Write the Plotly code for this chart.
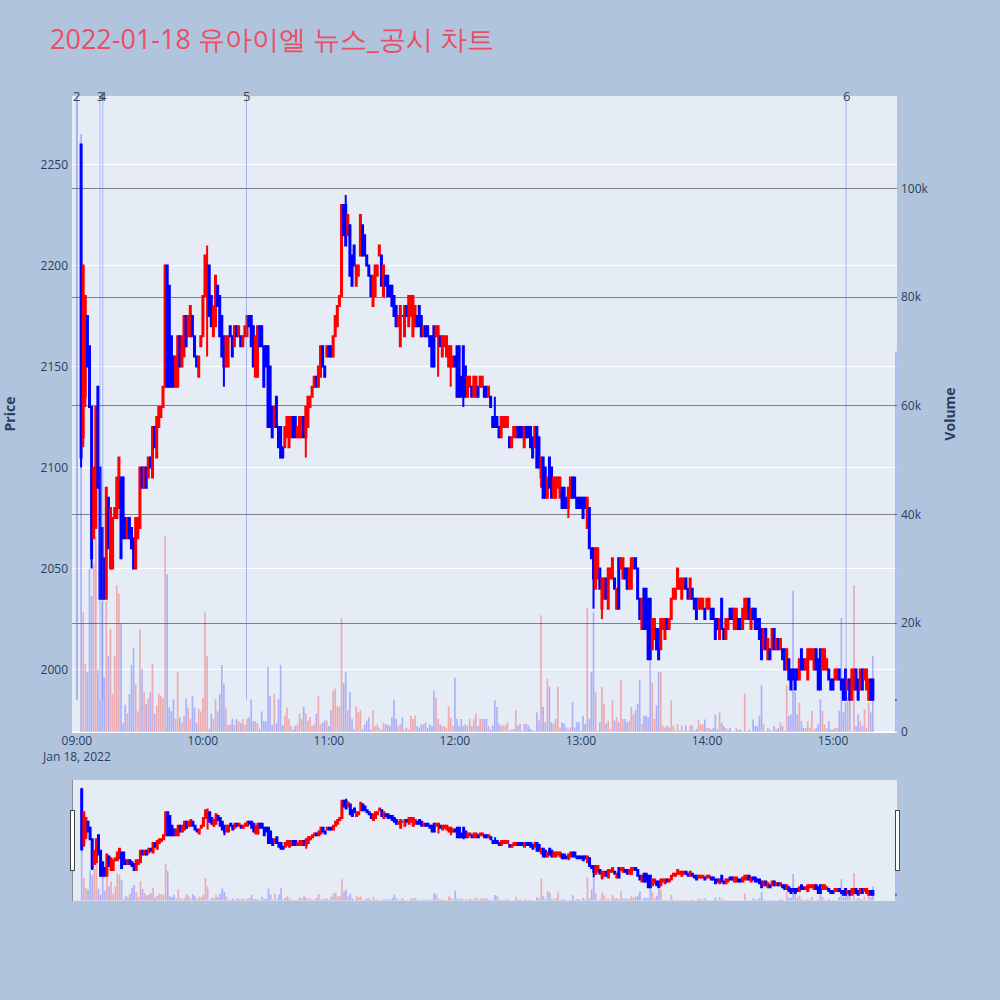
import pandas as pd
import plotly.graph_objects as go
from plotly.subplots import make_subplots

# ======================== 1-minute candles, 09:02 ~ 15:19 + closing auction 15:30 ========================
# 09:02 ~ 10:40
open_a = [2260, 2115, 2135, 2175, 2160, 2130, 2065, 2070, 2140, 2100,
          2070, 2055, 2035, 2085, 2050, 2050, 2075, 2075, 2080, 2095,
          2095, 2075, 2065, 2075, 2070, 2065, 2050, 2065, 2070, 2100,
          2090, 2100, 2095, 2105, 2095, 2120, 2105, 2120, 2125, 2130,
          2140, 2200, 2190, 2165, 2155, 2140, 2140, 2165, 2150, 2155,
          2175, 2165, 2165, 2175, 2165, 2155, 2145, 2160, 2165, 2185,
          2185, 2200, 2185, 2165, 2170, 2190, 2185, 2175, 2165, 2150,
          2150, 2170, 2165, 2160, 2170, 2165, 2165, 2160, 2165, 2165,
          2175, 2175, 2170, 2145, 2145, 2170, 2170, 2160, 2160, 2160,
          2150, 2130, 2120, 2135, 2120, 2120, 2110, 2110, 2115]
high_a = [2260, 2200, 2185, 2175, 2160, 2130, 2100, 2130, 2140, 2100,
          2070, 2055, 2090, 2085, 2080, 2075, 2080, 2095, 2105, 2095,
          2095, 2075, 2075, 2075, 2070, 2065, 2075, 2075, 2100, 2100,
          2100, 2100, 2105, 2105, 2120, 2120, 2125, 2130, 2130, 2140,
          2200, 2200, 2190, 2165, 2155, 2155, 2165, 2165, 2165, 2175,
          2175, 2175, 2180, 2175, 2165, 2155, 2155, 2165, 2185, 2205,
          2210, 2200, 2185, 2180, 2195, 2190, 2185, 2175, 2165, 2165,
          2165, 2170, 2165, 2170, 2170, 2170, 2165, 2165, 2170, 2175,
          2175, 2175, 2170, 2165, 2170, 2170, 2170, 2160, 2160, 2160,
          2150, 2130, 2130, 2135, 2120, 2120, 2110, 2120, 2125]
low_a = [2100, 2110, 2130, 2150, 2130, 2050, 2065, 2070, 2090, 2035,
         2035, 2035, 2035, 2060, 2050, 2050, 2075, 2075, 2080, 2055,
         2065, 2065, 2065, 2065, 2060, 2050, 2050, 2065, 2070, 2090,
         2090, 2090, 2095, 2100, 2095, 2110, 2105, 2120, 2125, 2130,
         2140, 2140, 2140, 2140, 2140, 2140, 2140, 2150, 2150, 2155,
         2160, 2165, 2165, 2165, 2155, 2150, 2145, 2160, 2165, 2185,
         2155, 2175, 2170, 2165, 2170, 2180, 2165, 2155, 2140, 2150,
         2150, 2165, 2155, 2160, 2165, 2165, 2160, 2160, 2165, 2165,
         2170, 2160, 2150, 2145, 2145, 2160, 2160, 2140, 2150, 2120,
         2120, 2115, 2120, 2120, 2110, 2105, 2105, 2110, 2115]
close_a = [2105, 2200, 2185, 2150, 2130, 2055, 2100, 2130, 2090, 2035,
           2035, 2035, 2090, 2060, 2080, 2075, 2080, 2095, 2105, 2055,
           2065, 2065, 2075, 2065, 2060, 2050, 2075, 2075, 2100, 2090,
           2100, 2090, 2105, 2100, 2120, 2110, 2125, 2130, 2130, 2140,
           2200, 2140, 2140, 2140, 2140, 2155, 2165, 2150, 2165, 2175,
           2160, 2175, 2180, 2165, 2155, 2150, 2155, 2165, 2185, 2205,
           2200, 2175, 2170, 2180, 2195, 2180, 2165, 2155, 2150, 2165,
           2165, 2165, 2155, 2170, 2165, 2170, 2160, 2165, 2170, 2175,
           2170, 2160, 2150, 2165, 2170, 2160, 2160, 2140, 2150, 2120,
           2120, 2115, 2130, 2120, 2110, 2105, 2105, 2120, 2125]
vol_a = [110000, 22000, 12500, 11000, 30000, 25000, 31000, 36000, 11500, 6000,
         24000, 10000, 24000, 14000, 19000, 7000, 14000, 27000, 25500, 20000,
         1600, 5000, 3400, 7000, 12300, 15500, 8800, 3800, 19000, 11600,
         7400, 5200, 6200, 7400, 12600, 3400, 4800, 7000, 6600, 6200,
         36000, 29000, 4500, 3800, 6000, 2400, 11000, 2700, 1600, 3000,
         6200, 4500, 2400, 6600, 4500, 1600, 4200, 3800, 6200, 22000,
         14000, 600, 3400, 2400, 6000, 3800, 7000, 12300, 8800, 4500,
         1300, 1300, 2400, 1300, 2400, 2000, 1600, 2400, 1300, 2400,
         2700, 6000, 2000, 2000, 1600, 600, 3800, 2000, 2000, 12000,
         6600, 1300, 7000, 1600, 6000, 12300, 1300, 3000, 4500]

# 10:41 ~ 12:17
open_b = [2110, 2115, 2125, 2125, 2115, 2115, 2115, 2125, 2115, 2120,
          2130, 2135, 2140, 2145, 2140, 2145, 2160, 2150, 2155, 2160,
          2160, 2155, 2165, 2170, 2180, 2185, 2230, 2230, 2215, 2220,
          2205, 2210, 2190, 2195, 2205, 2220, 2215, 2205, 2200, 2195,
          2180, 2185, 2195, 2205, 2205, 2185, 2195, 2195, 2190, 2190,
          2185, 2180, 2170, 2160, 2175, 2165, 2180, 2170, 2175, 2165,
          2170, 2175, 2180, 2175, 2165, 2170, 2170, 2165, 2165, 2170,
          2165, 2165, 2165, 2155, 2160, 2155, 2150, 2150, 2150, 2155,
          2160, 2160, 2145, 2160, 2150, 2135, 2140, 2140, 2135, 2135,
          2140, 2140, 2140, 2140, 2140, 2135, 2135]
high_b = [2125, 2125, 2125, 2125, 2120, 2125, 2125, 2125, 2130, 2135,
          2135, 2140, 2145, 2145, 2150, 2160, 2160, 2150, 2160, 2160,
          2160, 2165, 2175, 2180, 2185, 2230, 2230, 2235, 2225, 2220,
          2205, 2210, 2200, 2200, 2225, 2220, 2215, 2205, 2200, 2195,
          2195, 2200, 2200, 2210, 2205, 2200, 2195, 2195, 2190, 2190,
          2185, 2180, 2175, 2180, 2175, 2180, 2180, 2185, 2185, 2185,
          2180, 2175, 2180, 2175, 2170, 2170, 2170, 2165, 2165, 2170,
          2170, 2170, 2165, 2165, 2165, 2165, 2160, 2160, 2155, 2155,
          2160, 2160, 2145, 2160, 2150, 2145, 2145, 2140, 2145, 2145,
          2140, 2145, 2145, 2140, 2140, 2140, 2135]
low_b = [2110, 2115, 2115, 2115, 2115, 2115, 2115, 2115, 2105, 2120,
         2130, 2135, 2140, 2140, 2140, 2145, 2150, 2145, 2155, 2155,
         2155, 2155, 2165, 2170, 2180, 2185, 2215, 2210, 2215, 2195,
         2190, 2200, 2190, 2195, 2205, 2205, 2205, 2200, 2195, 2185,
         2180, 2185, 2195, 2205, 2190, 2185, 2190, 2185, 2185, 2180,
         2175, 2170, 2170, 2160, 2175, 2165, 2175, 2170, 2175, 2165,
         2170, 2170, 2170, 2165, 2165, 2165, 2165, 2160, 2150, 2150,
         2165, 2145, 2160, 2155, 2160, 2155, 2150, 2140, 2150, 2150,
         2135, 2135, 2135, 2130, 2135, 2135, 2140, 2135, 2135, 2135,
         2135, 2140, 2140, 2135, 2135, 2135, 2130]
close_b = [2125, 2125, 2115, 2115, 2120, 2125, 2125, 2115, 2130, 2135,
           2135, 2140, 2145, 2140, 2150, 2160, 2150, 2145, 2160, 2155,
           2155, 2165, 2175, 2180, 2185, 2230, 2215, 2210, 2225, 2195,
           2190, 2200, 2200, 2200, 2225, 2205, 2205, 2200, 2195, 2185,
           2195, 2200, 2200, 2210, 2190, 2200, 2190, 2185, 2185, 2180,
           2175, 2170, 2175, 2180, 2175, 2180, 2175, 2185, 2185, 2185,
           2180, 2170, 2170, 2165, 2170, 2165, 2165, 2160, 2150, 2150,
           2170, 2170, 2160, 2165, 2165, 2165, 2160, 2160, 2155, 2150,
           2135, 2135, 2135, 2135, 2135, 2145, 2145, 2135, 2145, 2145,
           2135, 2145, 2145, 2135, 2135, 2140, 2130]
vol_b = [2400, 1100, 450, 1100, 1400, 3400, 2400, 4700, 3400, 2100,
         2700, 1100, 1400, 3400, 6600, 1400, 1700, 2100, 2100, 1100,
         4000, 7600, 8000, 4700, 4700, 21000, 9000, 11000, 4000, 7300,
         2400, 450, 4700, 3700, 4000, 450, 1400, 2100, 2700, 450,
         4000, 1100, 1400, 800, 450, 1700, 1400, 1400, 1100, 2700,
         6000, 2400, 1100, 1400, 2700, 450, 800, 450, 3000, 2400,
         3000, 1100, 800, 1400, 1400, 1700, 800, 1400, 1100, 7600,
         6300, 2400, 1400, 1100, 1100, 800, 4700, 2700, 1100, 10000,
         2400, 1100, 2400, 1100, 1400, 1100, 2400, 1100, 2400, 3400,
         1100, 2400, 2400, 2400, 2400, 1100, 450]

# 12:18 ~ 13:55
open_c = [2125, 2125, 2125, 2120, 2115, 2120, 2120, 2120, 2115, 2110,
          2115, 2115, 2120, 2120, 2120, 2110, 2120, 2120, 2120, 2115,
          2110, 2120, 2115, 2095, 2105, 2100, 2085, 2105, 2100, 2085,
          2085, 2090, 2085, 2090, 2090, 2085, 2080, 2085, 2095, 2095,
          2085, 2085, 2085, 2085, 2085, 2070, 2080, 2060, 2060, 2040,
          2045, 2050, 2030, 2035, 2045, 2030, 2045, 2045, 2045, 2030,
          2055, 2050, 2045, 2050, 2050, 2040, 2040, 2050, 2055, 2050,
          2035, 2020, 2040, 2040, 2035, 2035, 2010, 2015, 2020, 2020,
          2010, 2020, 2015, 2025, 2020, 2025, 2035, 2035, 2040, 2040,
          2035, 2040, 2045, 2040, 2035, 2040, 2035, 2035]
high_c = [2125, 2135, 2125, 2120, 2125, 2125, 2125, 2125, 2115, 2115,
          2120, 2120, 2120, 2120, 2120, 2120, 2120, 2120, 2120, 2115,
          2120, 2120, 2115, 2105, 2105, 2100, 2095, 2105, 2100, 2095,
          2095, 2095, 2095, 2090, 2090, 2085, 2090, 2095, 2095, 2095,
          2085, 2085, 2085, 2085, 2085, 2085, 2080, 2060, 2060, 2060,
          2060, 2050, 2045, 2045, 2045, 2050, 2050, 2055, 2045, 2040,
          2055, 2055, 2055, 2050, 2050, 2050, 2055, 2055, 2055, 2050,
          2035, 2035, 2040, 2040, 2035, 2035, 2025, 2025, 2020, 2020,
          2025, 2025, 2025, 2025, 2025, 2035, 2040, 2040, 2050, 2045,
          2045, 2045, 2045, 2040, 2045, 2040, 2035, 2035]
low_c = [2120, 2120, 2120, 2115, 2115, 2120, 2120, 2120, 2110, 2110,
         2115, 2115, 2115, 2115, 2115, 2110, 2115, 2115, 2110, 2105,
         2110, 2100, 2100, 2090, 2085, 2085, 2085, 2090, 2085, 2085,
         2085, 2090, 2085, 2080, 2080, 2080, 2075, 2085, 2085, 2085,
         2080, 2080, 2080, 2075, 2080, 2070, 2060, 2055, 2030, 2040,
         2045, 2040, 2025, 2035, 2035, 2030, 2045, 2045, 2040, 2030,
         2030, 2050, 2045, 2045, 2040, 2040, 2040, 2050, 2050, 2035,
         2025, 2020, 2020, 2020, 2005, 2005, 2010, 2015, 2010, 2005,
         2010, 2020, 2015, 2020, 2020, 2025, 2035, 2035, 2040, 2040,
         2035, 2040, 2040, 2035, 2035, 2035, 2030, 2025]
close_c = [2120, 2120, 2120, 2115, 2125, 2125, 2125, 2125, 2110, 2115,
           2120, 2120, 2115, 2115, 2115, 2120, 2115, 2115, 2110, 2105,
           2120, 2100, 2100, 2105, 2085, 2085, 2095, 2090, 2085, 2095,
           2095, 2095, 2095, 2080, 2080, 2080, 2090, 2095, 2085, 2085,
           2080, 2080, 2080, 2075, 2080, 2085, 2060, 2055, 2045, 2060,
           2060, 2040, 2045, 2045, 2035, 2050, 2050, 2055, 2040, 2040,
           2030, 2055, 2055, 2045, 2040, 2050, 2055, 2055, 2050, 2035,
           2025, 2035, 2020, 2020, 2005, 2005, 2025, 2025, 2010, 2005,
           2025, 2025, 2025, 2020, 2025, 2035, 2040, 2040, 2050, 2045,
           2045, 2045, 2040, 2035, 2045, 2035, 2030, 2025]
vol_c = [1200, 5800, 4600, 1500, 1200, 1200, 1200, 1800, 250, 550,
         550, 4000, 1200, 1500, 250, 1500, 1500, 1200, 550, 250,
         250, 3600, 2100, 21500, 4600, 1800, 9800, 8300, 1800, 1500,
         2400, 8300, 850, 1800, 1500, 850, 550, 850, 5500, 850,
         1800, 1800, 250, 3000, 1500, 22800, 2400, 11000, 22000, 7300,
         250, 1800, 8300, 5200, 1500, 2100, 550, 5800, 2100, 2700,
         1800, 9500, 2400, 2400, 1800, 2100, 4600, 3300, 4000, 5200,
         9500, 1500, 3000, 3000, 2700, 13000, 9000, 2400, 4900, 11000,
         11000, 1200, 850, 1200, 850, 5800, 1200, 250, 1500, 250,
         1200, 250, 1200, 250, 1200, 1200, 250, 550]

# 13:56 ~ 15:19
open_d = [2030, 2030, 2030, 2030, 2030, 2030, 2030, 2030, 2025, 2025,
          2015, 2035, 2020, 2015, 2020, 2030, 2030, 2020, 2020, 2025,
          2025, 2020, 2025, 2025, 2035, 2020, 2030, 2030, 2025, 2025,
          2020, 2010, 2020, 2005, 2010, 2010, 2020, 2010, 2015, 2010,
          2010, 2010, 2000, 2005, 2000, 2000, 2000, 2000, 1995, 2010,
          2005, 2000, 1995, 2005, 2005, 2000, 2010, 2005, 2010, 2000,
          2000, 2000, 2000, 1995, 1995, 1995, 1995, 2000, 1995, 1995,
          2000, 1990, 1995, 1985, 1990, 2000, 1995, 1990, 2000, 1995,
          1990, 1985, 1995, 1995]
high_d = [2035, 2035, 2035, 2030, 2035, 2035, 2030, 2030, 2025, 2025,
          2025, 2035, 2020, 2025, 2025, 2030, 2030, 2030, 2030, 2025,
          2025, 2030, 2035, 2035, 2035, 2030, 2030, 2030, 2025, 2025,
          2020, 2020, 2020, 2015, 2010, 2020, 2020, 2015, 2015, 2015,
          2010, 2010, 2010, 2005, 2000, 2000, 2000, 2000, 2005, 2010,
          2005, 2005, 2010, 2010, 2010, 2010, 2010, 2005, 2010, 2010,
          2010, 2005, 2000, 1995, 1995, 2000, 2000, 2000, 1995, 1995,
          2000, 1995, 1995, 2000, 2000, 2000, 1995, 2000, 2000, 2000,
          2000, 1995, 1995, 1995]
low_d = [2030, 2030, 2030, 2025, 2030, 2030, 2025, 2025, 2015, 2020,
         2015, 2020, 2015, 2015, 2020, 2025, 2025, 2020, 2020, 2020,
         2020, 2020, 2025, 2025, 2025, 2020, 2025, 2020, 2020, 2015,
         2005, 2010, 2010, 2005, 2005, 2010, 2010, 2010, 2010, 2010,
         2005, 2000, 2000, 1995, 1990, 1995, 1990, 1995, 1995, 2000,
         2000, 2000, 1995, 2005, 2005, 2000, 2000, 1990, 1990, 2000,
         2000, 2000, 1995, 1990, 1990, 1995, 1995, 1995, 1990, 1985,
         1985, 1990, 1985, 1985, 1990, 1990, 1985, 1990, 1990, 1995,
         1990, 1985, 1985, 1985]
close_d = [2035, 2035, 2035, 2025, 2035, 2035, 2025, 2025, 2015, 2020,
           2025, 2020, 2015, 2025, 2025, 2025, 2025, 2030, 2030, 2020,
           2020, 2030, 2035, 2035, 2025, 2030, 2025, 2020, 2020, 2015,
           2005, 2020, 2010, 2015, 2005, 2020, 2010, 2015, 2010, 2015,
           2005, 2000, 2010, 1995, 1990, 1995, 1990, 1995, 2005, 2000,
           2000, 2005, 2010, 2010, 2010, 2010, 2000, 1990, 1990, 2010,
           2010, 2005, 1995, 1990, 1990, 2000, 2000, 1995, 1990, 1985,
           1985, 1995, 1985, 2000, 2000, 1990, 1985, 2000, 1990, 2000,
           2000, 1995, 1985, 1985]
vol_d = [2300, 1400, 1400, 2300, 750, 750, 450, 750, 3200, 450,
         3600, 1700, 1100, 750, 450, 750, 150, 150, 750, 450,
         450, 150, 7000, 150, 450, 150, 2300, 1100, 1100, 3000,
         8600, 1400, 150, 750, 450, 150, 1100, 450, 750, 1700,
         1100, 150, 8600, 3000, 3200, 26000, 7300, 3200, 5400, 2000,
         750, 750, 2000, 750, 3900, 450, 750, 1400, 6000, 3900,
         1400, 750, 2000, 450, 450, 750, 750, 3900, 21000, 3600,
         5400, 6400, 9500, 150, 27000, 1100, 3200, 2000, 1100, 4200,
         750, 5400, 3600, 14000]

# closing single-price auction
close_auction_time = "2022-01-18 15:30"
close_auction_price = 1985
close_auction_volume = 70000

# news / disclosure markers
news_times = ["2022-01-18 09:00:00", "2022-01-18 09:11:00", "2022-01-18 09:12:20",
              "2022-01-18 10:20:45", "2022-01-18 15:06:15"]
news_labels = ["2", "3", "4", "5", "6"]

# ======================== assemble ========================
opens = open_a + open_b + open_c + open_d + [close_auction_price]
highs = high_a + high_b + high_c + high_d + [close_auction_price]
lows = low_a + low_b + low_c + low_d + [close_auction_price]
closes = close_a + close_b + close_c + close_d + [close_auction_price]
volumes = vol_a + vol_b + vol_c + vol_d + [close_auction_volume]

n_minutes = len(open_a) + len(open_b) + len(open_c) + len(open_d)
times = pd.date_range("2022-01-18 09:02", periods=n_minutes, freq="min")
times = times.append(pd.DatetimeIndex([close_auction_time]))

lens = [len(opens), len(highs), len(lows), len(closes), len(volumes), len(times)]
assert len(set(lens)) == 1, f"length mismatch {lens}"

vol_colors = ["rgba(255,0,0,0.28)" if c > o else "rgba(0,0,255,0.25)" for o, c in zip(opens, closes)]

PRICE_RANGE = [1969, 2284]
VOL_RANGE = [0, 117000]
X_RANGE = ["2022-01-18 08:57:40", "2022-01-18 15:30:30"]

fig = make_subplots(specs=[[{"secondary_y": True}]])

fig.add_trace(go.Candlestick(
    x=times, open=opens, high=highs, low=lows, close=closes,
    increasing=dict(line=dict(color="red", width=2), fillcolor="red"),
    decreasing=dict(line=dict(color="blue", width=2), fillcolor="blue"),
    name="Price",
    showlegend=False
), secondary_y=False)

fig.add_trace(go.Bar(
    x=times, y=volumes,
    marker=dict(color=vol_colors, line=dict(width=0)),
    name="Volume",
    showlegend=False
), secondary_y=True)

# news lines
low_price = min(lows)
for t, label in zip(news_times, news_labels):
    fig.add_shape(
        type="line", xref="x", yref="y",
        x0=t, x1=t, y0=low_price, y1=PRICE_RANGE[1],
        line=dict(color="rgba(80,110,235,0.45)", width=2 if label == "2" else 1),
        layer="above"
    )
    fig.add_annotation(
        x=t, y=1, xref="x", yref="paper",
        text=label, showarrow=False, yanchor="middle",
        font=dict(size=13, color="#444")
    )

fig.update_layout(
    width=1000,
    height=1000,
    paper_bgcolor="lightsteelblue",
    plot_bgcolor="#E5ECF6",
    title=dict(
        text="2022-01-18 유아이엘 뉴스_공시 차트",
        x=0.05, xanchor="left",
        y=0.96, yanchor="middle",
        font=dict(size=27, color="#EC4D64")
    ),
    margin=dict(l=72, r=103, t=96, b=100),
    showlegend=False,
    bargap=0.2,
    font=dict(color="#2a3f5f")
)

fig.update_xaxes(
    type="date",
    domain=[0, 1],
    range=X_RANGE,
    showgrid=False,
    rangeslider=dict(visible=True, thickness=0.15, bgcolor="#E5ECF6"),
    tickfont=dict(size=12)
)
fig.update_yaxes(
    title_text="<b>Price</b>",
    title_standoff=21,
    automargin=False,
    ticklabelstandoff=3,
    range=PRICE_RANGE,
    gridcolor="white",
    tickfont=dict(size=12),
    secondary_y=False
)
fig.update_yaxes(
    title_text="<b>Volume</b>",
    title_standoff=17,
    automargin=False,
    ticklabelstandoff=3,
    range=VOL_RANGE,
    showgrid=True,
    gridcolor="gray",
    tickfont=dict(size=12),
    secondary_y=True
)

# page without the default body margin so the figure sits at (0, 0)
fig.write_html("out.html", config={"displayModeBar": False},
               post_script="document.body.style.margin='0px';")
